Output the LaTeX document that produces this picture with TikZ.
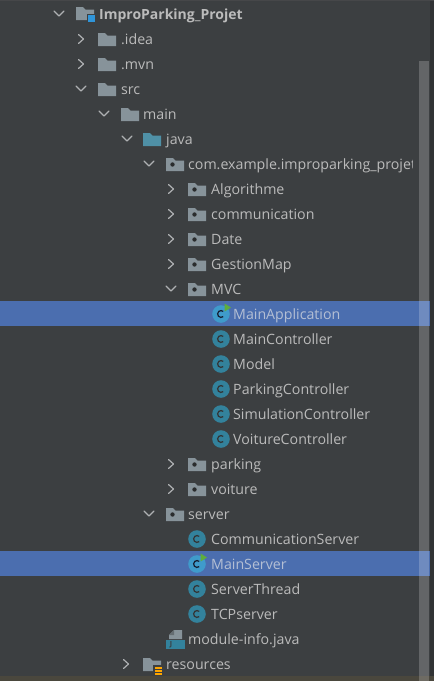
\documentclass[tikz,border=0pt]{standalone}
\usepackage{fontspec}
\setmainfont{Open Sans}
\definecolor{bgc}{HTML}{3C3F41}
\definecolor{selc}{HTML}{4B6EAF}
\definecolor{txtc}{HTML}{BBBBBB}
\definecolor{selt}{HTML}{B4BFD4}
\definecolor{chevc}{HTML}{AFB1B3}
\definecolor{foldc}{HTML}{87939A}
\definecolor{srcc}{HTML}{4F90A6}
\definecolor{classc}{HTML}{33829C}
\definecolor{classs}{HTML}{3F9BCB}
\definecolor{stripc}{HTML}{313335}
\definecolor{botc}{HTML}{4A473D}
\definecolor{runc}{HTML}{5FAD3C}
\tikzset{
  lbl/.style={anchor=base west,inner sep=0pt,text=txtc,font=\fontsize{14.2}{16}\selectfont},
  chev/.style={draw=chevc,line width=1.2pt,line cap=round,line join=round},
}
\newcommand{\foldershape}[3]{%
  \fill[#3] (#1,#2-6) -- ++(7,0) -- ++(2.5,2.5) -- ++(8.5,0) -- ++(0,10.5) -- ++(-18,0) -- cycle;}
\newcommand{\fold}[2]{\foldershape{#1}{#2}{foldc}}
\newcommand{\pkg}[2]{\foldershape{#1}{#2}{foldc}\fill[bgc!70!black] (#1+6.5,#2+0.5) circle (2.2);}
\newcommand{\open}[2]{\draw[chev] (#1-5,#2-3) -- (#1,#2+2) -- (#1+5,#2-3);}
\newcommand{\shut}[2]{\draw[chev] (#1-2.5,#2-4.5) -- (#1+2.5,#2) -- (#1-2.5,#2+4.5);}
\newcommand{\cls}[2]{\fill[classc] (#1,#2) circle (8.8);
  \draw[bgc!85!black,line width=1.3pt] (#1+2.2,#2+2.6) arc (50:310:3.4);}
\newcommand{\clsrun}[2]{\fill[classs] (#1,#2) circle (8.8);
  \draw[selc!30!black,line width=1.3pt] (#1+2.2,#2+2.6) arc (50:310:3.4);
  \fill[runc] (#1+3.5,#2-10.5) -- (#1+10,#2-6.5) -- (#1+3.5,#2-2.5) -- cycle;}
\begin{document}
\begin{tikzpicture}[x=1pt,y=-1pt]
\useasboundingbox (0,0) rectangle (434,681);
\fill[bgc] (0,0) rectangle (434,681);
\fill[stripc] (430,0) rectangle (434,681);
\fill[stripc!90!white] (0,0) rectangle (434,1);
\fill[selc] (0,301) rectangle (430,326);
\fill[selc] (0,551) rectangle (430,576);
\fill[botc] (0,676) rectangle (434,681);
\fill[white,opacity=0.2] (419,61) rectangle (429,681);
\begin{scope}[shift={(0,-1)}]
\open{59}{15} \shut{81}{40} \shut{81}{65} \open{81}{90} \open{104}{115} \open{127}{140} \open{149}{165}
\shut{171}{190} \shut{171}{215} \shut{171}{240} \shut{171}{265} \open{171}{290}
\shut{171}{465} \shut{171}{490} \open{149}{515} \shut{126}{665}
\foldershape{76}{14}{foldc}\fill[bgc] (87,15) rectangle (95,24);\fill[cyan!70!blue!85!white] (88,16) rectangle (95,23);
\fold{98}{40} \fold{98}{65} \fold{98}{90} \fold{121}{115} \foldershape{143}{140}{srcc}
\pkg{166}{165} \pkg{188}{190} \pkg{188}{215} \pkg{188}{240} \pkg{188}{265} \pkg{188}{290}
\clsrun{221}{315} \cls{221}{340} \cls{221}{365} \cls{221}{390} \cls{221}{415} \cls{221}{440}
\pkg{188}{465} \pkg{188}{490} \pkg{166}{515}
\cls{197}{540} \clsrun{197}{565} \cls{197}{590} \cls{197}{615}
\fill[foldc] (174,631) -- (182,631) -- (182,640) -- (169,640) -- (169,636) -- cycle;
\fill[foldc!55!bgc] (174,631) -- (174,636) -- (169,636) -- cycle;
\fill[classc] (166,641) rectangle (185,650);
\node[inner sep=0pt,text=bgc,font=\fontsize{7}{7}\bfseries\selectfont] at (171,645.5) {J};
\fold{143}{665}
\fill[bgc] (153,666) rectangle (162,677);
\foreach \yy in {668,671,674} \fill[orange!70!yellow] (155,\yy) rectangle (162,\yy+1.7);
\end{scope}
\begin{scope}[shift={(0,-0.3)}]
\clip (0,0) rectangle (412,681);
\node[lbl,font=\fontsize{14}{16}\bfseries\selectfont] (root) at (99,20) {ImproParking\_Projet};
\node[lbl] (idea) at (121,45) {.idea};
\node[lbl] (mvn) at (121,70) {.mvn};
\node[lbl] (src) at (121,95) {src};
\node[lbl] (main) at (143,120) {main};
\node[lbl] (java) at (166,145) {java};
\node[lbl] (com) at (188,170) {com.example.improparking\_projet};
\node[lbl] (algo) at (211,195) {Algorithme};
\node[lbl] (comm) at (211,220) {communication};
\node[lbl] (date) at (211,245) {Date};
\node[lbl] (gest) at (211,270) {GestionMap};
\node[lbl] (mvc) at (211,295) {MVC};
\node[lbl,text=selt] (mapp) at (233,320) {MainApplication};
\node[lbl] (mctl) at (233,345) {MainController};
\node[lbl] (model) at (233,370) {Model};
\node[lbl] (pctl) at (233,395) {ParkingController};
\node[lbl] (sctl) at (233,420) {SimulationController};
\node[lbl] (vctl) at (233,445) {VoitureController};
\node[lbl] (park) at (211,470) {parking};
\node[lbl] (voit) at (211,495) {voiture};
\node[lbl] (serv) at (188,520) {server};
\node[lbl] (cs) at (211,545) {CommunicationServer};
\node[lbl,text=selt] (ms) at (211,570) {MainServer};
\node[lbl] (st) at (211,595) {ServerThread};
\node[lbl] (tcp) at (211,620) {TCPserver};
\node[lbl] (mi) at (188,645) {module-info.java};
\node[lbl] (res) at (166,670) {resources};
\end{scope}
\end{tikzpicture}
\end{document}
